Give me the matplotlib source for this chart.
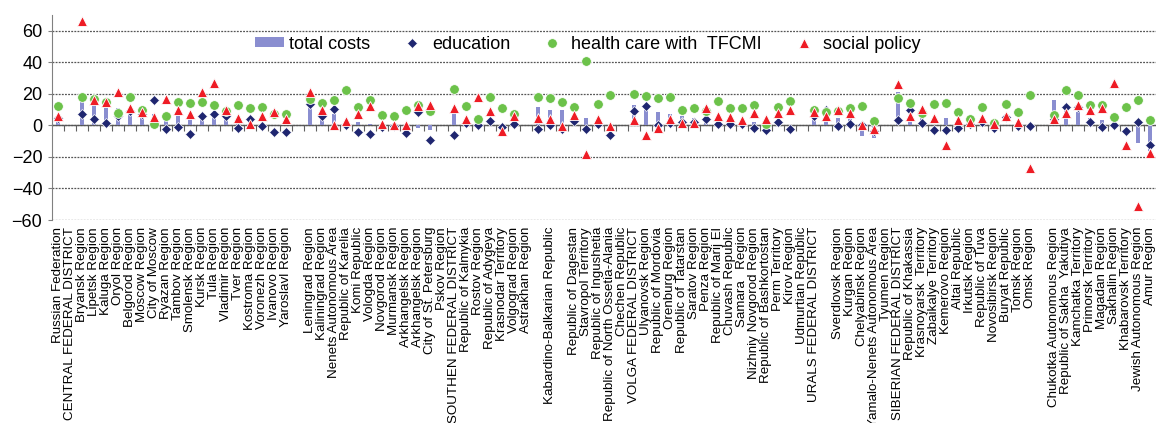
import numpy as np
import matplotlib
matplotlib.use("Agg")
import matplotlib.pyplot as plt

plt.rcParams['font.family'] = ['Liberation Sans', 'DejaVu Sans']

nan = np.nan

regions = [
    "Russian Federation", "CENTRAL FEDERAL DISTRICT", "Bryansk Region", "Lipetsk Region",
    "Kaluga Region", "Oryol Region", "Belgorod Region", "Moscow Region", "City of Moscow",
    "Ryazan Region", "Tambov Region", "Smolensk Region", "Kursk Region", "Tula Region",
    "Vladimir Region", "Tver Region", "Kostroma Region", "Voronezh Region", "Ivanovo Region",
    "Yaroslavl Region", "",
    "Leningrad Region", "Kaliningrad Region", "Nenets Autonomous Area", "Republic of Karelia",
    "Komi Republic", "Vologda Region", "Novgorod Region", "Murmansk Region",
    "Arkhangelsk Region", "Arkhangelsk Region", "City of St. Petersburg", "Pskov Region",
    "SOUTHEN FEDERAL DISTRICT", "Republic of Kalmykia", "Rostov Region", "Republic of Adygeya",
    "Krasnodar Territory", "Volgograd Region", "Astrakhan Region", "",
    "Kabardino-Balkarian Republic", "",
    "Republic of Dagestan", "Stavropol Territory", "Republic of Ingushetia",
    "Republic of North Ossetia-Alania", "Chechen Republic", "VOLGA FEDERAL DISTRICT",
    "Ulyanovsk Region", "Republic of Mordovia", "Orenburg Region", "Republic of Tatarstan",
    "Saratov Region", "Penza Region", "Republic of Marij El", "Chuvash Republic",
    "Samara   Region", "Nizhniy Novgorod Region", "Republic of Bashkortostan",
    "Perm Territory", "Kirov Region", "Udmurtian Republic", "URALS FEDERAL DISTRICT", "",
    "Sverdlovsk Region", "Kurgan Region", "Chelyabinsk Region",
    "Yamalo-Nenets Autonomous Area", "Tyumen Region", "SIBERIAN FEDERAL DISTRICT",
    "Republic of Khakassia", "Krasnoyarsk  Territory", "Zabaikalye Territory",
    "Kemerovo Region", "Altai Republic", "Irkutsk Region", "Republic of Tuva",
    "Novosibirsk Region", "Buryat Republic", "Tomsk Region", "Omsk Region", "",
    "Chukotka Autonomous Region", "Republic of Sakha  Yakutiya", "Kamchatka Territory",
    "Primorsk Territory", "Magadan Region", "Sakhalin Region", "Khabarovsk Territory",
    "Jewish Autonomous Region", "Amur Region",
]

total_costs = [
    5, nan, 17.5, 13, 11, 11, 10, 8, 7, 5, 6, 5.5, 5, 6, 9, 2, 3, 1, 0.5, 0, nan,
    14, 10.5, 7, 0, 2, 1, 0, 0, 0, -1.5, -2.7, nan, 9, 0, 0, 0, -2, 0, nan,
    11.6, 10, 9.5, 2, 4.8, 0, 0, nan, 13, 10, 8.4, 7.4, 5.7, 4.8, 5.7, 2, 1, 1, 2, 0,
    0, 0, nan, 8, 10, 4.8, 4.6, -7, -7.8, nan, 21, 6, 5.7, 0, 4.8, 0, 0, 0, 0, 0, 0,
    -2, nan, 16, 13.7, 8.4, 4.8, 3.2, -1.7, 0, -11, -16,
]
education = [
    4.5, nan, 7, 4, 1.5, 6, 9, 7, 16, -2, -1, -5.5, 6, 7, 6, -1.5, 4, -0.6, -4.4, -4, nan,
    13.7, 6, 10.5, 0, -4.2, -5.3, -1, -0.6, -4.8, 8.4, -9, nan, -6.3, 1.7, 0.4, 2.5, -1, 1, nan,
    -2, 0.4, -2, 2.5, -2, 1, -6.3, nan, 9, 12.2, 0.4, 1.5, 2, 2, 4.2, 0.6, 0.6, 1, -1.5, -2.7,
    2, -2, nan, 5.7, 9.5, -0.4, 0.6, 0, -3.5, nan, 3.6, 9.5, 1.7, -3.2, -2.7, -1.5, 1, 2, -1.5,
    5.3, -0.6, -0.6, nan, 4, 11.6, 11.6, 2, -1, 0, -3.8, 2, -12.6,
]
health_care = [
    12, nan, 18, 17, 15, 8, 18, 10, 1, 6, 15, 14, 15, 13, 9, 13, 11, 11.6, 7.4, 7, nan,
    17, 14, 16, 22.5, 11.6, 16, 6.3, 5.7, 9.5, 13, 9, nan, 23, 12, 3.8, 18, 11, 7.4, nan,
    18, 17.5, 14.7, 11.6, 41, 13.3, 19.4, nan, 19.6, 18.5, 17.3, 18.3, 9.5, 11, 9, 15.4, 11,
    11, 13, 1, 11.6, 15.2, nan, 10, 8.4, 9, 11, 12.2, 2.7, nan, 17.3, 14.3, 8, 13.3, 14, 8.8,
    4.2, 11.6, 1.5, 13.7, 8.8, 19, nan, 6.7, 22.7, 19, 12.8, 12.8, 5.3, 11.6, 16.2, 3.6,
]
social_policy = [
    6, nan, 66, 16, 15, 21, 11, 8.4, 5, 17, 10, 7.4, 21, 27, 9.5, 4.6, 1, 5.7, 8.4, 4.2, nan,
    21, 9.5, 0, 3, 7.4, 12, 1, 0, 0, 12.6, 13, nan, 11, 3.8, 18, 9, -3.8, 5.7, nan,
    4.8, 4.2, -0.6, 6.3, -18.3, 4.2, -0.4, nan, 3.6, -5.9, -1.5, 4.2, 1.5, 1.7, 11, 5.7, 5.3,
    3.2, 8, 4.2, 7.8, 9.5, nan, 8.4, 5.9, 10, 7.8, 0, -2.2, nan, 26, 5.7, 10.5, 4.8, -12.6,
    3.6, 2, 4.8, 0.6, 5.7, 2, -27, nan, 4.2, 7.8, 13, 10, 11, 27, -12.6, -51, -17.5,
]

x = np.arange(len(regions))

fig = plt.figure(figsize=(11.56, 4.23), dpi=100)
ax = fig.add_axes([52 / 1156, 1 - 220 / 423, 1104 / 1156, 205 / 423])

bars = ax.bar(x, total_costs, width=0.38, color='#8a8ed0', label='total costs', zorder=2)
l_edu, = ax.plot(x, education, ls='none', marker='D', ms=5, color='#1f2670',
                 mec='white', mew=0.5, label='education', zorder=3)
l_hc, = ax.plot(x, health_care, ls='none', marker='o', ms=7, color='#6cc24a',
                mec='white', mew=0.6, label='health care with  TFCMI', zorder=4)
l_soc, = ax.plot(x, social_policy, ls='none', marker='^', ms=7.5, color='#ee1c25',
                 mec='white', mew=0.6, label='social policy', zorder=5)

ax.set_xlim(-0.5, len(regions) - 0.5)
ax.set_ylim(-60, 70)
ax.set_yticks(np.arange(-60, 61, 20))
ax.tick_params(axis='y', labelsize=13, length=3, color='#808080', pad=4)
ax.yaxis.grid(True, color='#555555', lw=0.9, ls=(0, (1.5, 1)))
ax.set_axisbelow(True)

ax.set_xticks(x)
ax.set_xticklabels(regions, rotation=90, fontsize=9.6, va='top', ha='center')
ax.tick_params(axis='x', length=0, pad=5)

for s in ['top', 'right', 'bottom']:
    ax.spines[s].set_visible(False)
ax.spines['left'].set_color('#808080')

# zero line with category separators
zero_ax = ax.secondary_xaxis(0, transform=ax.transData)
zero_ax.set_xticks(x[:-1] + 0.5)
zero_ax.set_xticklabels([])
zero_ax.tick_params(axis='x', direction='out', length=4, color='#606060', width=0.8)
zero_ax.spines['bottom'].set_color('#606060')
zero_ax.spines['bottom'].set_linewidth(1.0)

ax.legend([bars, l_edu, l_hc, l_soc],
          ['total costs', 'education', 'health care with  TFCMI', 'social policy'],
          loc='center', bbox_to_anchor=(0.4855, 0.8585), ncol=4, frameon=False,
          fontsize=13, handlelength=1.6, handleheight=0.45, handletextpad=0.3,
          columnspacing=1.5, borderaxespad=0)

plt.savefig("out.png", dpi=100)
